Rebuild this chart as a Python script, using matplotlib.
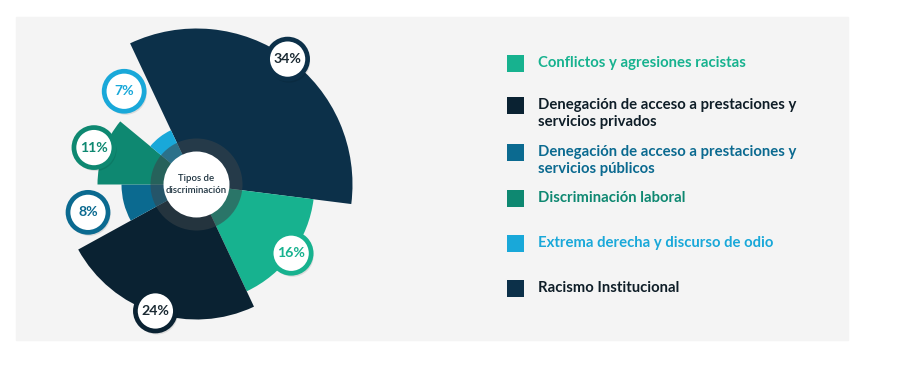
import matplotlib
matplotlib.use("Agg")
import matplotlib.pyplot as plt
import numpy as np
from matplotlib.patches import Wedge, Circle, Rectangle

# data, in drawing order (clockwise from the top-left edge)
categories = [
    "Racismo Institucional",
    "Conflictos y agresiones racistas",
    "Denegación de acceso a prestaciones y\nservicios privados",
    "Denegación de acceso a prestaciones y\nservicios públicos",
    "Discriminación laboral",
    "Extrema derecha y discurso de odio",
]
percentages = [34, 16, 24, 8, 11, 7]

# styling
colors = ["#0c3049", "#17b28f", "#0a2232", "#0b6a90", "#0e8871", "#19a8d9"]
seg_radius = [156, 118, 135, 75, 99, 60]      # outer radius of each petal (px)
label_radius = [155, 117, 133, 112, 109, 118]  # where the % badge sits (px)
legend_order = [1, 2, 3, 4, 5, 0]
legend_y = [63, 105, 152, 198, 243, 288]       # first-line centre, image px

W, H = 901, 371
CX, CY = 196.5, H - 184.5
START = 115.2

plt.rcParams["font.family"] = ["Lato", "DejaVu Sans"]

fig = plt.figure(figsize=(W / 100, H / 100), dpi=100)
ax = fig.add_axes([0, 0, 1, 1])
ax.set_xlim(0, W)
ax.set_ylim(0, H)
ax.set_aspect("equal")
ax.axis("off")
fig.patch.set_facecolor("white")

# light grey panel
ax.add_patch(Rectangle((16, H - 340), 832, 323, color="#f4f4f4", zorder=0))

# petals
angle = START
mids = []
for pct, col, r in zip(percentages, colors, seg_radius):
    span = pct * 3.6
    ax.add_patch(Wedge((CX, CY), r, angle - span, angle, color=col, lw=0, zorder=2))
    mids.append(angle - span / 2)
    angle -= span

# centre ring and disc
ax.add_patch(Circle((CX, CY), 46, color="#3b4449", alpha=0.55, lw=0, zorder=3))
ax.add_patch(Circle((CX, CY), 33, color="white", lw=0, zorder=4))
ax.text(CX, CY, "Tipos de\ndiscriminación", ha="center", va="center",
        fontsize=6.9, fontweight="semibold", color="#1e3340", linespacing=1.3, zorder=5)

# percentage badges
for pct, col, mid, lr in zip(percentages, colors, mids, label_radius):
    x = CX + lr * np.cos(np.radians(mid))
    y = CY + lr * np.sin(np.radians(mid))
    ax.add_patch(Circle((x + 1.5, y - 2.5), 21, color="black", alpha=0.10, lw=0, zorder=6))
    ax.add_patch(Circle((x, y), 20, facecolor="white", edgecolor=col, lw=3.4, zorder=7))
    txt_col = col if col not in ("#0c3049", "#0a2232") else "#1b2a33"
    ax.text(x, y, f"{pct}%", ha="center", va="center", fontsize=10.2,
            fontweight="bold", color=txt_col, zorder=8)

# legend
for i, yy in zip(legend_order, legend_y):
    ax.add_patch(Rectangle((507, H - yy - 8.5), 17, 17, color=colors[i], lw=0, zorder=2))
    txt_col = colors[i] if i not in (0, 2) else "#0f1e28"
    ax.text(538, H - yy + 7, categories[i], ha="left", va="top", fontsize=10.7,
            fontweight="bold", color=txt_col, linespacing=1.3, zorder=3)

fig.savefig("out.png", dpi=100)
